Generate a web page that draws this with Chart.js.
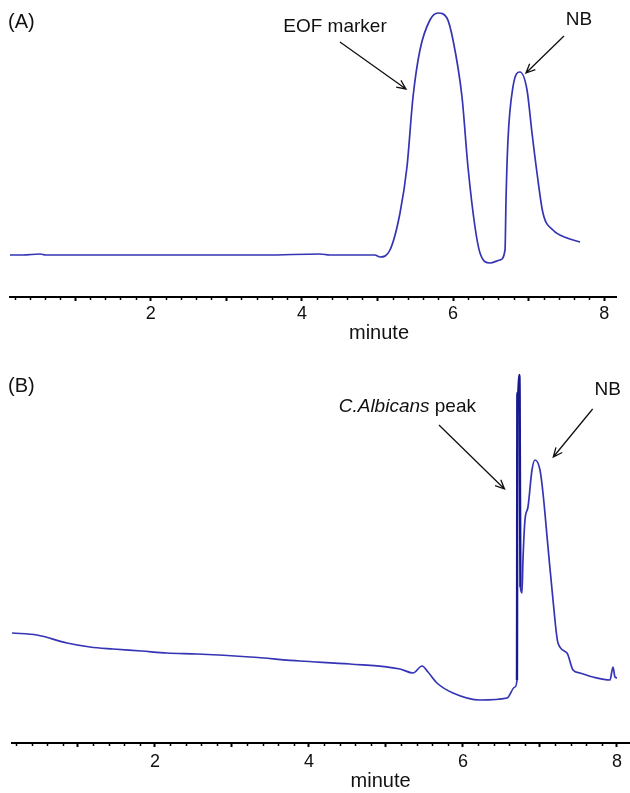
<!DOCTYPE html>
<html><head><meta charset="utf-8">
<script src="https://cdn.jsdelivr.net/npm/chart.js@4.4.0/dist/chart.umd.min.js"></script>
<style>
html,body{margin:0;padding:0;background:#fff;width:630px;height:793px;overflow:hidden}
#a{position:absolute;left:0;top:0}
#b{position:absolute;left:0;top:355px}
</style>
</head><body>
<canvas id="a" width="630" height="355"></canvas>
<canvas id="b" width="630" height="438"></canvas>
<script>
// ---- data (minutes, detector signal in arbitrary units) ----
const timeA = [0.139,0.312,0.536,0.614,1.329,2.519,3.521,4.239,4.372,4.967,5.033,5.165,5.298,5.390,5.470,5.562,5.694,5.800,5.919,5.999,6.118,6.197,6.290,6.356,6.488,6.620,6.687,6.700,6.726,6.792,6.885,6.978,7.044,7.110,7.189,7.321,7.507,7.679];
const signalA = [0,0,1,0,0,0,0,1,0,0,-2,5,42,88,158,205,235,242,237,215,158,88,28,2,-8,-5,5,55,115,168,183,165,122,82,42,25,17,13];

const timeB = [0.143,0.468,0.857,1.156,1.455,1.826,2.156,2.545,3.234,3.883,4.532,5.182,5.351,5.468,5.545,5.662,5.870,6.221,6.571,6.675,6.701,6.706,6.716,6.731,6.736,6.746,6.766,6.779,6.805,6.844,6.896,6.935,7.000,7.039,7.104,7.169,7.234,7.351,7.429,7.520,7.688,7.909,7.948,7.974,8.000];
const signalB = [67,65,57,53,51,49,47,46,43,39,36,31,27,34,28,17,7,0,2,13,20,307,307,325,305,113,107,140,180,193,230,240,230,207,153,100,57,47,30,27,23,20,33,23,22];

const tickLabels = ['2','4','6','8'];
const axisTitle = 'minute';

const FONT = "'Liberation Sans', Arial, Helvetica, sans-serif";
const LINE = '#3434b4';
const SPIKE = '#18188f';

// annotations (data coordinates)
const notesA = {
  panel: '(A)', panelX: 8, panelY: 28, titleT: 5.02, titleY: 333,
  texts: [
    {t: 4.438, s: 223, text: [{str:'EOF marker'}], align: 'center'},
    {t: 7.665, s: 230, text: [{str:'NB'}], align: 'center'}
  ],
  arrows: [
    {t0: 4.504, s0: 213, t1: 5.377, s1: 166},
    {t0: 7.467, s0: 219, t1: 6.964, s1: 182}
  ]
};
const notesB = {
  panel: '(B)', panelX: 8, panelY: 37, titleT: 4.93, titleY: 426,
  texts: [
    {t: 6.169, s: 288, text: [{str:'C.Albicans', italic:true},{str:' peak'}], align: 'right'},
    {t: 7.879, s: 305, text: [{str:'NB'}], align: 'center'}
  ],
  arrows: [
    {t0: 5.688, s0: 275, t1: 6.539, s1: 211},
    {t0: 7.684, s0: 291, t1: 7.173, s1: 243}
  ]
};

const notePlugin = {
  id: 'notes',
  afterDraw(chart, args, opts) {
    const n = opts.notes; if (!n) return;
    const ctx = chart.ctx, xs = chart.scales.x, ys = chart.scales.y;
    ctx.save();
    ctx.fillStyle = '#111';
    ctx.textBaseline = 'alphabetic';
    ctx.textAlign = 'left';
    ctx.font = '20px ' + FONT;
    ctx.fillText(n.panel, n.panelX, n.panelY);
    for (const tx of n.texts) {
      const x = xs.getPixelForValue(tx.t), y = ys.getPixelForValue(tx.s);
      const parts = tx.text.map(p => ({...p, font: (p.italic ? 'italic ' : '') + '19px ' + FONT}));
      let w = 0;
      for (const p of parts) { ctx.font = p.font; p.w = ctx.measureText(p.str).width; w += p.w; }
      let cx = tx.align === 'center' ? x - w / 2 : (tx.align === 'right' ? x - w : x);
      for (const p of parts) { ctx.font = p.font; ctx.fillText(p.str, cx, y); cx += p.w; }
    }
    // axis title
    ctx.font = '20px ' + FONT;
    ctx.textAlign = 'center';
    ctx.textBaseline = 'middle';
    ctx.fillText(axisTitle, xs.getPixelForValue(n.titleT), n.titleY);
    ctx.strokeStyle = '#111';
    ctx.lineWidth = 1.3;
    for (const a of n.arrows) {
      const x0 = xs.getPixelForValue(a.t0), y0 = ys.getPixelForValue(a.s0);
      const x1 = xs.getPixelForValue(a.t1), y1 = ys.getPixelForValue(a.s1);
      const ang = Math.atan2(y1 - y0, x1 - x0), L = 10, sp = 0.42;
      ctx.beginPath();
      ctx.moveTo(x0, y0); ctx.lineTo(x1, y1);
      ctx.moveTo(x1 - L * Math.cos(ang - sp), y1 - L * Math.sin(ang - sp));
      ctx.lineTo(x1, y1);
      ctx.lineTo(x1 - L * Math.cos(ang + sp), y1 - L * Math.sin(ang + sp));
      ctx.stroke();
    }
    // minor ticks
    const yb = xs.top;
    ctx.lineWidth = 1.5;
    ctx.strokeStyle = '#000';
    for (const tk of xs.ticks) {
      if (Math.abs(tk.value - Math.round(tk.value)) < 1e-6) continue;
      const px = Math.round(xs.getPixelForValue(tk.value)) + 0.5;
      ctx.beginPath(); ctx.moveTo(px, yb); ctx.lineTo(px, yb + 3); ctx.stroke();
    }
    ctx.restore();
  }
};

function makeChart(id, times, sig, cfg) {
  const pts = times.map((t, i) => ({x: t, y: sig[i]}));
  const inSpike = c => cfg.spike && c.p0.parsed.x >= cfg.spike[0] && c.p1.parsed.x <= cfg.spike[1];
  return new Chart(document.getElementById(id), {
    type: 'line',
    data: {datasets: [{data: pts, borderColor: LINE, borderWidth: 1.7, pointRadius: 0,
      cubicInterpolationMode: 'monotone', fill: false,
      segment: {
        borderColor: c => inSpike(c) ? SPIKE : undefined,
        borderWidth: c => inSpike(c) ? 2.4 : undefined
      }}]},
    plugins: [notePlugin],
    options: {
      responsive: false, animation: false, devicePixelRatio: 1,
      layout: {padding: {left: cfg.padL, right: cfg.padR, top: 0, bottom: 0}},
      plugins: {legend: {display: false}, tooltip: {enabled: false}, notes: {notes: cfg.notes}},
      scales: {
        x: {
          type: 'linear', position: 'bottom', min: cfg.xmin, max: cfg.xmax,
          afterBuildTicks: s => {
            const arr = [];
            for (let i = 1; i <= 45; i++) { const v = i / 5; if (v >= s.min && v <= s.max) arr.push({value: v}); }
            s.ticks = arr;
          },
          afterFit: s => { s.height = cfg.axisH; },
          ticks: {autoSkip: false, maxRotation: 0, minRotation: 0, padding: cfg.tickPad, color: '#111',
            font: {family: FONT, size: 18},
            callback: v => tickLabels.includes(String(v)) ? String(v) : ''},
          grid: {drawOnChartArea: false, drawTicks: true, tickLength: 4, tickWidth: 2,
            tickColor: c => (c.tick && Math.abs(c.tick.value - Math.round(c.tick.value)) < 1e-6) ? '#000' : 'rgba(0,0,0,0)'},
          border: {display: true, color: '#000', width: 2},
          title: {display: false}
        },
        y: {display: false, min: cfg.ymin, max: cfg.ymax}
      }
    }
  });
}

makeChart('a', timeA, signalA, {padL: 10, padR: 14, xmin: 0.139, xmax: 8.155, axisH: 58, tickPad: 2, ymin: -42, ymax: 255, notes: notesA});
makeChart('b', timeB, signalB, {padL: 12, padR: 0, xmin: 0.143, xmax: 8.169, axisH: 50, tickPad: 4, ymin: -43, ymax: 345, notes: notesB, spike: [6.70, 6.75]});
</script>
</body></html>
